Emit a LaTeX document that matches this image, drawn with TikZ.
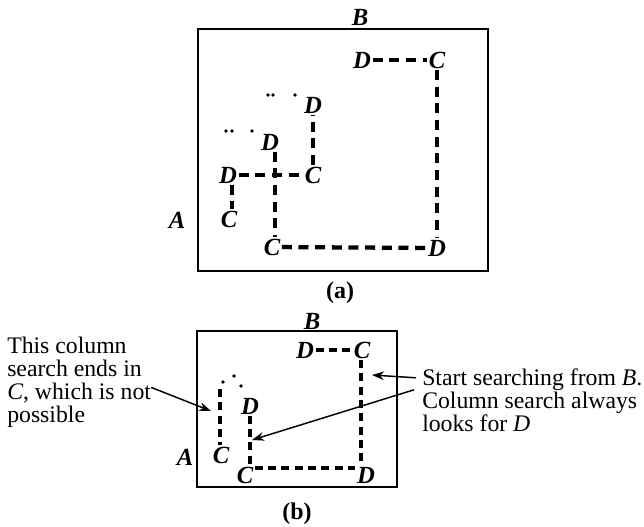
\documentclass[tikz,border=0pt]{standalone}
\usepackage{fontspec}
\setmainfont{Liberation Serif}
\usetikzlibrary{arrows.meta, positioning, calc}

\begin{document}
\begin{tikzpicture}[x=0.75pt, y=-0.75pt,
    lbl/.style={font=\fontsize{18.5}{18.5}\selectfont\bfseries\itshape, inner sep=1pt},
    sublbl/.style={font=\fontsize{18}{18}\selectfont\bfseries, inner sep=1pt},
    note/.style={inner sep=0pt, anchor=north west, align=left},
    frame/.style={draw, line width=1.3pt},
    walk/.style={line width=3.2pt, dash pattern=on 7.5pt off 5pt},
    walkb/.style={line width=2.6pt, dash pattern=on 6pt off 4pt},
    ptr/.style={-{Stealth[length=9pt, width=6.5pt]}, line width=1.1pt}
  ]
    \useasboundingbox (0,0) rectangle (644,526);

    % (a)
    \draw[frame] (198,29) rectangle (488,271);
    \node[lbl] (Ba) at (360,17)  {B};
    \node[lbl] (Aa) at (177,220) {A};
    \node[sublbl] (capa) at (340,293) {(a)};

    \node[lbl] (D1) at (362,60)  {D};
    \node[lbl] (C1) at (437,60)  {C};
    \node[lbl] (D2) at (437,248) {D};
    \node[lbl] (C2) at (272,247) {C};
    \node[lbl] (D3) at (270,142) {D};
    \node[lbl] (D4) at (313,105) {D};
    \node[lbl] (D5) at (228,175) {D};
    \node[lbl] (C3) at (313,175) {C};
    \node[lbl] (C4) at (229,219) {C};

    \draw[walk] (D1) -- (C1);
    \draw[walk] (C1) -- (D2);
    \draw[walk] (C2) -- (D2);
    \draw[walk] ($(D3.south)+(5,0)$) -- ($(C2.north)+(3,0)$);
    \draw[walk] (D5) -- (C3);
    \draw[walk] (C3) -- (D4);
    \draw[walk] ($(D5.south)+(4,0)$) -- ($(C4.north)+(3,0)$);

    \foreach \px/\py in {268/95, 273/95, 295/95, 226/131, 232/131, 252/131}
      \fill (\px,\py) circle (1.4pt);

    % (b)
    \draw[frame] (197,331) rectangle (397,487);
    \node[lbl] (Bb) at (312,321) {B};
    \node[lbl] (Ab) at (185,457) {A};
    \node[sublbl] (capb) at (297,514) {(b)};

    \node[lbl] (D6) at (305,350) {D};
    \node[lbl] (C5) at (362,350) {C};
    \node[lbl] (D7) at (366,475) {D};
    \node[lbl] (C6) at (245,475) {C};
    \node[lbl] (D8) at (250,406) {D};
    \node[lbl] (C7) at (221,455) {C};
    \coordinate (top7) at (220,389);

    \draw[walkb] (D6) -- (C5);
    \draw[walkb] ($(C5.south)+(-1,0)$) -- ($(D7.north)+(-5,0)$);
    \draw[walkb] ($(C6.east)+(0,-7)$) -- ($(D7.west)+(0,-7)$);
    \draw[walkb] (D8) -- ($(C6.north)+(5,0)$);
    \draw[walkb] (top7) -- ($(C7.north)+(-1,0)$);

    \foreach \px/\py in {223/382, 234/376, 241/386}
      \fill (\px,\py) circle (1.4pt);

    % notes
    \node[note, font=\fontsize{17.8}{17.3}\selectfont] (noteL) at (7,336.8)
      {This column\\search ends in\\\textit{C}, which is not\\possible};
    \node[note, font=\fontsize{17.8}{15.9}\selectfont] (noteR) at (422,368.8)
      {Start searching from \textit{B}.\\Column search always\\looks for \textit{D}};

    \coordinate (tipL) at (211,411);
    \coordinate (tipR1) at (372,375);
    \coordinate (tipR2) at (252,440);

    \draw[ptr] ($(noteL.east)+(0,5)$) -- (tipL);
    \draw[ptr] ($(noteR.north west)+(-6,9)$) -- (tipR1);
    \draw[ptr] ($(noteR.north west)+(-8,21)$) -- (tipR2);
  \end{tikzpicture}
\end{document}
